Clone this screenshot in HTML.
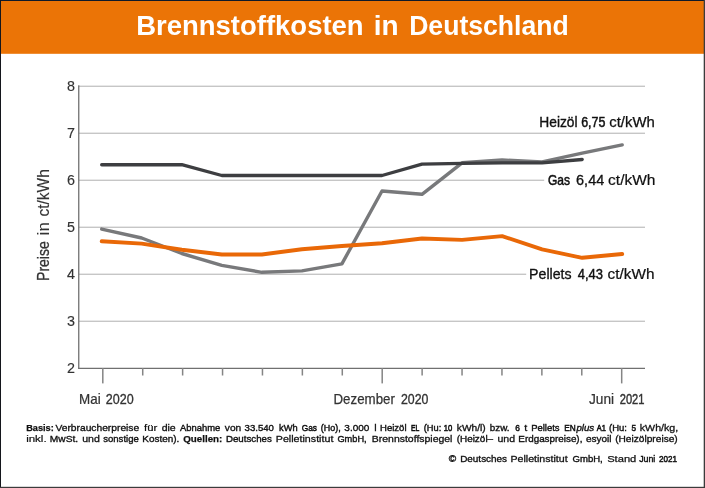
<!DOCTYPE html>
<html><head><meta charset="utf-8"><title>Brennstoffkosten in Deutschland</title>
<style>html,body{margin:0;padding:0;background:#fff;}body{width:705px;height:488px;overflow:hidden;font-family:"Liberation Sans",sans-serif;}</style>
</head><body>
<svg width="705" height="488" viewBox="0 0 705 488" style="display:block;will-change:transform" font-family="Liberation Sans, sans-serif">
<rect x="0" y="0" width="705" height="488" fill="#fff"/>
<rect x="0" y="0" width="705" height="53.8" fill="#EB7406"/>
<rect x="79" y="85.60" width="566" height="1.4" fill="#c6c6c6"/>
<rect x="79" y="132.60" width="566" height="1.4" fill="#c6c6c6"/>
<rect x="79" y="179.60" width="566" height="1.4" fill="#c6c6c6"/>
<rect x="79" y="226.60" width="566" height="1.4" fill="#c6c6c6"/>
<rect x="79" y="273.60" width="566" height="1.4" fill="#c6c6c6"/>
<rect x="79" y="320.60" width="566" height="1.4" fill="#c6c6c6"/>
<rect x="544.2" y="170" width="115" height="20" fill="#fff"/>
<rect x="526.2" y="264" width="133" height="20" fill="#fff"/>
<rect x="78.1" y="85.3" width="1.3" height="283.4" fill="#707070"/>
<rect x="78.1" y="367.75" width="566.9" height="1.25" fill="#707070"/>
<rect x="102.05" y="368" width="1.5" height="15.4" fill="#858585"/>
<rect x="141.97" y="368" width="1.5" height="7.5" fill="#858585"/>
<rect x="181.88" y="368" width="1.5" height="7.5" fill="#858585"/>
<rect x="221.80" y="368" width="1.5" height="7.5" fill="#858585"/>
<rect x="261.71" y="368" width="1.5" height="7.5" fill="#858585"/>
<rect x="301.62" y="368" width="1.5" height="7.5" fill="#858585"/>
<rect x="341.54" y="368" width="1.5" height="7.5" fill="#858585"/>
<rect x="381.45" y="368" width="1.5" height="15.4" fill="#858585"/>
<rect x="421.37" y="368" width="1.5" height="7.5" fill="#858585"/>
<rect x="461.29" y="368" width="1.5" height="7.5" fill="#858585"/>
<rect x="501.20" y="368" width="1.5" height="7.5" fill="#858585"/>
<rect x="541.12" y="368" width="1.5" height="7.5" fill="#858585"/>
<rect x="581.03" y="368" width="1.5" height="7.5" fill="#858585"/>
<rect x="620.94" y="368" width="1.5" height="15.4" fill="#858585"/>
<polyline points="101.7,229.1 141.7,238.0 181.8,253.5 221.8,265.3 261.9,272.3 301.9,270.9 341.9,263.9 382.0,191.0 422.0,194.3 462.1,162.8 502.1,160.0 542.1,161.9 582.2,153.2 622.2,144.9" fill="none" stroke="#78797b" stroke-width="3.4" stroke-linecap="round" stroke-linejoin="round"/>
<polyline points="101.7,164.7 141.7,164.7 181.8,164.7 221.8,175.5 261.9,175.5 301.9,175.5 341.9,175.5 382.0,175.5 422.0,164.2 462.1,163.3 502.1,162.8 542.1,162.8 582.2,159.5" fill="none" stroke="#3d3e41" stroke-width="3.35" stroke-linecap="round" stroke-linejoin="round"/>
<polyline points="101.7,241.3 141.7,243.6 181.8,249.8 221.8,254.5 261.9,254.5 301.9,249.3 341.9,246.0 382.0,243.2 422.0,238.5 462.1,239.9 502.1,236.1 542.1,249.3 582.2,257.8 622.2,254.0" fill="none" stroke="#E96807" stroke-width="3.9" stroke-linecap="round" stroke-linejoin="round"/>
<text x="75.0" y="91.2" font-size="14.3" fill="#333" stroke="#333" stroke-width="0.15" text-anchor="end">8</text>
<text x="75.0" y="138.1" font-size="14.3" fill="#333" stroke="#333" stroke-width="0.15" text-anchor="end">7</text>
<text x="75.0" y="185.0" font-size="14.3" fill="#333" stroke="#333" stroke-width="0.15" text-anchor="end">6</text>
<text x="75.0" y="231.9" font-size="14.3" fill="#333" stroke="#333" stroke-width="0.15" text-anchor="end">5</text>
<text x="75.0" y="278.7" font-size="14.3" fill="#333" stroke="#333" stroke-width="0.15" text-anchor="end">4</text>
<text x="75.0" y="325.6" font-size="14.3" fill="#333" stroke="#333" stroke-width="0.15" text-anchor="end">3</text>
<text x="75.0" y="372.5" font-size="14.3" fill="#333" stroke="#333" stroke-width="0.15" text-anchor="end">2</text>
<text x="136.14" y="35.1" font-size="28.5" fill="#fff" font-weight="bold" font-style="normal" textLength="227.52" lengthAdjust="spacingAndGlyphs" >Brennstoffkosten</text>
<text x="373.72" y="35.1" font-size="28.5" fill="#fff" font-weight="bold" font-style="normal" textLength="24.86" lengthAdjust="spacingAndGlyphs" >in</text>
<text x="409.17" y="35.1" font-size="28.5" fill="#fff" font-weight="bold" font-style="normal" textLength="159.55" lengthAdjust="spacingAndGlyphs" >Deutschland</text>
<text x="79.06" y="404.2" font-size="14.3" fill="#333" font-weight="normal" font-style="normal" textLength="21.60" lengthAdjust="spacingAndGlyphs" stroke="#333" stroke-width="0.24">Mai</text>
<text x="105.80" y="404.2" font-size="14.3" fill="#333" font-weight="normal" font-style="normal" textLength="27.86" lengthAdjust="spacingAndGlyphs" stroke="#333" stroke-width="0.32">2020</text>
<text x="333.47" y="404.2" font-size="14.3" fill="#333" font-weight="normal" font-style="normal" textLength="61.41" lengthAdjust="spacingAndGlyphs" stroke="#333" stroke-width="0.25">Dezember</text>
<text x="401.00" y="404.2" font-size="14.3" fill="#333" font-weight="normal" font-style="normal" textLength="27.46" lengthAdjust="spacingAndGlyphs" stroke="#333" stroke-width="0.34">2020</text>
<text x="589.00" y="404.2" font-size="14.3" fill="#333" font-weight="normal" font-style="normal" textLength="25.17" lengthAdjust="spacingAndGlyphs" stroke="#333" stroke-width="0.21">Juni</text>
<text x="619.70" y="404.2" font-size="14.3" fill="#333" font-weight="normal" font-style="normal" textLength="24.76" lengthAdjust="spacingAndGlyphs" stroke="#333" stroke-width="0.45">2021</text>
<text transform="translate(48.7,280.1) rotate(-90)" x="-0.79" y="0.0" font-size="15.7" fill="#333" font-weight="normal" font-style="normal" textLength="39.54" lengthAdjust="spacingAndGlyphs" stroke="#333" stroke-width="0.29">Preise</text>
<text transform="translate(48.7,280.1) rotate(-90)" x="44.93" y="0.0" font-size="15.7" fill="#333" font-weight="normal" font-style="normal" textLength="13.04" lengthAdjust="spacingAndGlyphs" stroke="#333" stroke-width="0.02">in</text>
<text transform="translate(48.7,280.1) rotate(-90)" x="63.50" y="0.0" font-size="15.7" fill="#333" font-weight="normal" font-style="normal" textLength="47.52" lengthAdjust="spacingAndGlyphs" stroke="#333" stroke-width="0.14">ct/kWh</text>
<text x="539.31" y="127.2" font-size="13.9" fill="#111" font-weight="normal" font-style="normal" textLength="38.28" lengthAdjust="spacingAndGlyphs" stroke="#111" stroke-width="0.35">Heizöl</text>
<text x="581.20" y="127.2" font-size="13.9" fill="#111" font-weight="normal" font-style="normal" textLength="24.25" lengthAdjust="spacingAndGlyphs" stroke="#111" stroke-width="0.48">6,75</text>
<text x="609.20" y="127.2" font-size="13.9" fill="#111" font-weight="normal" font-style="normal" textLength="45.58" lengthAdjust="spacingAndGlyphs" stroke="#111" stroke-width="0.25">ct/kWh</text>
<text x="548.00" y="184.5" font-size="13.9" fill="#111" font-weight="normal" font-style="normal" textLength="22.05" lengthAdjust="spacingAndGlyphs" stroke="#111" stroke-width="0.52">Gas</text>
<text x="576.10" y="184.5" font-size="13.9" fill="#111" font-weight="normal" font-style="normal" textLength="28.11" lengthAdjust="spacingAndGlyphs" stroke="#111" stroke-width="0.29">6,44</text>
<text x="608.10" y="184.5" font-size="13.9" fill="#111" font-weight="normal" font-style="normal" textLength="47.41" lengthAdjust="spacingAndGlyphs" stroke="#111" stroke-width="0.19">ct/kWh</text>
<text x="529.08" y="278.6" font-size="13.9" fill="#111" font-weight="normal" font-style="normal" textLength="42.46" lengthAdjust="spacingAndGlyphs" stroke="#111" stroke-width="0.32">Pellets</text>
<text x="577.80" y="278.6" font-size="13.9" fill="#111" font-weight="normal" font-style="normal" textLength="25.24" lengthAdjust="spacingAndGlyphs" stroke="#111" stroke-width="0.43">4,43</text>
<text x="607.60" y="278.6" font-size="13.9" fill="#111" font-weight="normal" font-style="normal" textLength="46.90" lengthAdjust="spacingAndGlyphs" stroke="#111" stroke-width="0.21">ct/kWh</text>
<text x="26.15" y="431.3" font-size="9.9" fill="#111" font-weight="bold" font-style="normal" textLength="27.57" lengthAdjust="spacingAndGlyphs" stroke="#111" stroke-width="0.25">Basis:</text>
<text x="55.45" y="431.3" font-size="9.9" fill="#111" font-weight="normal" font-style="normal" textLength="83.77" lengthAdjust="spacingAndGlyphs" stroke="#111" stroke-width="0.33">Verbraucherpreise</text>
<text x="144.05" y="431.3" font-size="9.9" fill="#111" font-weight="normal" font-style="normal" textLength="13.28" lengthAdjust="spacingAndGlyphs" stroke="#111" stroke-width="0.23">für</text>
<text x="161.65" y="431.3" font-size="9.9" fill="#111" font-weight="normal" font-style="normal" textLength="14.06" lengthAdjust="spacingAndGlyphs" stroke="#111" stroke-width="0.31">die</text>
<text x="179.95" y="431.3" font-size="9.9" fill="#111" font-weight="normal" font-style="normal" textLength="40.32" lengthAdjust="spacingAndGlyphs" stroke="#111" stroke-width="0.41">Abnahme</text>
<text x="224.85" y="431.3" font-size="9.9" fill="#111" font-weight="normal" font-style="normal" textLength="16.41" lengthAdjust="spacingAndGlyphs" stroke="#111" stroke-width="0.34">von</text>
<text x="244.55" y="431.3" font-size="9.9" fill="#111" font-weight="normal" font-style="normal" textLength="29.41" lengthAdjust="spacingAndGlyphs" stroke="#111" stroke-width="0.39">33.540</text>
<text x="279.05" y="431.3" font-size="9.9" fill="#111" font-weight="normal" font-style="normal" textLength="18.56" lengthAdjust="spacingAndGlyphs" stroke="#111" stroke-width="0.43">kWh</text>
<text x="301.75" y="431.3" font-size="9.9" fill="#111" font-weight="normal" font-style="normal" textLength="15.25" lengthAdjust="spacingAndGlyphs" stroke="#111" stroke-width="0.52">Gas</text>
<text x="320.85" y="431.3" font-size="9.9" fill="#111" font-weight="normal" font-style="normal" textLength="19.87" lengthAdjust="spacingAndGlyphs" stroke="#111" stroke-width="0.46">(Ho),</text>
<text x="344.35" y="431.3" font-size="9.9" fill="#111" font-weight="normal" font-style="normal" textLength="24.99" lengthAdjust="spacingAndGlyphs" stroke="#111" stroke-width="0.36">3.000</text>
<text x="374.35" y="431.3" font-size="9.9" fill="#111" font-weight="normal" font-style="normal" textLength="2.41" lengthAdjust="spacingAndGlyphs" stroke="#111" stroke-width="0.28">l</text>
<text x="380.05" y="431.3" font-size="9.9" fill="#111" font-weight="normal" font-style="normal" textLength="26.49" lengthAdjust="spacingAndGlyphs" stroke="#111" stroke-width="0.40">Heizöl</text>
<text x="410.95" y="431.3" font-size="9.9" fill="#111" font-weight="normal" font-style="normal" textLength="8.35" lengthAdjust="spacingAndGlyphs" stroke="#111" stroke-width="0.66">EL</text>
<text x="423.75" y="431.3" font-size="9.9" fill="#111" font-weight="normal" font-style="normal" textLength="17.50" lengthAdjust="spacingAndGlyphs" stroke="#111" stroke-width="0.43">(Hu:</text>
<text x="443.85" y="431.3" font-size="9.9" fill="#111" font-weight="normal" font-style="normal" textLength="8.51" lengthAdjust="spacingAndGlyphs" stroke="#111" stroke-width="0.58">10</text>
<text x="456.85" y="431.3" font-size="9.9" fill="#111" font-weight="normal" font-style="normal" textLength="28.90" lengthAdjust="spacingAndGlyphs" stroke="#111" stroke-width="0.34">kWh/l)</text>
<text x="489.75" y="431.3" font-size="9.9" fill="#111" font-weight="normal" font-style="normal" textLength="19.74" lengthAdjust="spacingAndGlyphs" stroke="#111" stroke-width="0.37">bzw.</text>
<text x="515.25" y="431.3" font-size="9.9" fill="#111" font-weight="normal" font-style="normal" textLength="4.67" lengthAdjust="spacingAndGlyphs" stroke="#111" stroke-width="0.51">6</text>
<text x="524.25" y="431.3" font-size="9.9" fill="#111" font-weight="normal" font-style="normal" textLength="3.02" lengthAdjust="spacingAndGlyphs" stroke="#111" stroke-width="0.28">t</text>
<text x="531.15" y="431.3" font-size="9.9" fill="#111" font-weight="normal" font-style="normal" textLength="28.44" lengthAdjust="spacingAndGlyphs" stroke="#111" stroke-width="0.41">Pellets</text>
<text x="564.15" y="431.3" font-size="9.9" fill="#111" font-weight="normal" font-style="normal" textLength="11.51" lengthAdjust="spacingAndGlyphs" stroke="#111" stroke-width="0.52">EN</text>
<text x="576.43" y="431.3" font-size="9.9" fill="#111" font-weight="normal" font-style="italic" textLength="17.76" lengthAdjust="spacingAndGlyphs" stroke="#111" stroke-width="0.39">plus</text>
<text x="596.75" y="431.3" font-size="9.9" fill="#111" font-weight="normal" font-style="normal" textLength="9.12" lengthAdjust="spacingAndGlyphs" stroke="#111" stroke-width="0.60">A1</text>
<text x="609.05" y="431.3" font-size="9.9" fill="#111" font-weight="normal" font-style="normal" textLength="17.91" lengthAdjust="spacingAndGlyphs" stroke="#111" stroke-width="0.41">(Hu:</text>
<text x="631.55" y="431.3" font-size="9.9" fill="#111" font-weight="normal" font-style="normal" textLength="4.58" lengthAdjust="spacingAndGlyphs" stroke="#111" stroke-width="0.52">5</text>
<text x="639.75" y="431.3" font-size="9.9" fill="#111" font-weight="normal" font-style="normal" textLength="38.50" lengthAdjust="spacingAndGlyphs" stroke="#111" stroke-width="0.30">kWh/kg,</text>
<text x="26.15" y="442.2" font-size="9.9" fill="#111" font-weight="normal" font-style="normal" textLength="20.47" lengthAdjust="spacingAndGlyphs" stroke="#111" stroke-width="0.22">inkl.</text>
<text x="49.85" y="442.2" font-size="9.9" fill="#111" font-weight="normal" font-style="normal" textLength="28.37" lengthAdjust="spacingAndGlyphs" stroke="#111" stroke-width="0.34">MwSt.</text>
<text x="82.25" y="442.2" font-size="9.9" fill="#111" font-weight="normal" font-style="normal" textLength="17.63" lengthAdjust="spacingAndGlyphs" stroke="#111" stroke-width="0.30">und</text>
<text x="103.25" y="442.2" font-size="9.9" fill="#111" font-weight="normal" font-style="normal" textLength="35.51" lengthAdjust="spacingAndGlyphs" stroke="#111" stroke-width="0.40">sonstige</text>
<text x="142.25" y="442.2" font-size="9.9" fill="#111" font-weight="normal" font-style="normal" textLength="37.05" lengthAdjust="spacingAndGlyphs" stroke="#111" stroke-width="0.36">Kosten).</text>
<text x="183.25" y="442.2" font-size="9.9" fill="#111" font-weight="bold" font-style="normal" textLength="39.09" lengthAdjust="spacingAndGlyphs" stroke="#111" stroke-width="0.25">Quellen:</text>
<text x="225.95" y="442.2" font-size="9.9" fill="#111" font-weight="normal" font-style="normal" textLength="45.84" lengthAdjust="spacingAndGlyphs" stroke="#111" stroke-width="0.39">Deutsches</text>
<text x="275.75" y="442.2" font-size="9.9" fill="#111" font-weight="normal" font-style="normal" textLength="57.62" lengthAdjust="spacingAndGlyphs" stroke="#111" stroke-width="0.29">Pelletinstitut</text>
<text x="337.45" y="442.2" font-size="9.9" fill="#111" font-weight="normal" font-style="normal" textLength="29.19" lengthAdjust="spacingAndGlyphs" stroke="#111" stroke-width="0.43">GmbH,</text>
<text x="371.85" y="442.2" font-size="9.9" fill="#111" font-weight="normal" font-style="normal" textLength="80.61" lengthAdjust="spacingAndGlyphs" stroke="#111" stroke-width="0.31">Brennstoffspiegel</text>
<text x="456.65" y="442.2" font-size="9.9" fill="#111" font-weight="normal" font-style="normal" textLength="36.49" lengthAdjust="spacingAndGlyphs" stroke="#111" stroke-width="0.36">(Heizöl–</text>
<text x="497.45" y="442.2" font-size="9.9" fill="#111" font-weight="normal" font-style="normal" textLength="17.63" lengthAdjust="spacingAndGlyphs" stroke="#111" stroke-width="0.30">und</text>
<text x="518.35" y="442.2" font-size="9.9" fill="#111" font-weight="normal" font-style="normal" textLength="64.04" lengthAdjust="spacingAndGlyphs" stroke="#111" stroke-width="0.37">Erdgaspreise),</text>
<text x="585.95" y="442.2" font-size="9.9" fill="#111" font-weight="normal" font-style="normal" textLength="25.50" lengthAdjust="spacingAndGlyphs" stroke="#111" stroke-width="0.36">esyoil</text>
<text x="615.15" y="442.2" font-size="9.9" fill="#111" font-weight="normal" font-style="normal" textLength="62.60" lengthAdjust="spacingAndGlyphs" stroke="#111" stroke-width="0.34">(Heizölpreise)</text>
<text x="448.65" y="461.7" font-size="9.9" fill="#111" font-weight="normal" font-style="normal" textLength="7.46" lengthAdjust="spacingAndGlyphs" stroke="#111" stroke-width="0.35">©</text>
<text x="460.15" y="461.7" font-size="9.9" fill="#111" font-weight="normal" font-style="normal" textLength="46.94" lengthAdjust="spacingAndGlyphs" stroke="#111" stroke-width="0.36">Deutsches</text>
<text x="510.45" y="461.7" font-size="9.9" fill="#111" font-weight="normal" font-style="normal" textLength="57.22" lengthAdjust="spacingAndGlyphs" stroke="#111" stroke-width="0.30">Pelletinstitut</text>
<text x="572.55" y="461.7" font-size="9.9" fill="#111" font-weight="normal" font-style="normal" textLength="30.22" lengthAdjust="spacingAndGlyphs" stroke="#111" stroke-width="0.40">GmbH,</text>
<text x="607.15" y="461.7" font-size="9.9" fill="#111" font-weight="normal" font-style="normal" textLength="29.16" lengthAdjust="spacingAndGlyphs" stroke="#111" stroke-width="0.25">Stand</text>
<text x="639.15" y="461.7" font-size="9.9" fill="#111" font-weight="normal" font-style="normal" textLength="16.17" lengthAdjust="spacingAndGlyphs" stroke="#111" stroke-width="0.47">Juni</text>
<text x="659.05" y="461.7" font-size="9.9" fill="#111" font-weight="normal" font-style="normal" textLength="17.98" lengthAdjust="spacingAndGlyphs" stroke="#111" stroke-width="0.54">2021</text>
<rect x="0" y="0" width="705" height="1" fill="#0f1a2a"/>
<rect x="0" y="0" width="1" height="488" fill="#14161c"/>
<rect x="703.7" y="0" width="1.3" height="488" fill="#3c3c3c"/>
<rect x="0" y="486.8" width="705" height="1.2" fill="#3c3c3c"/>
</svg>
</body></html>
